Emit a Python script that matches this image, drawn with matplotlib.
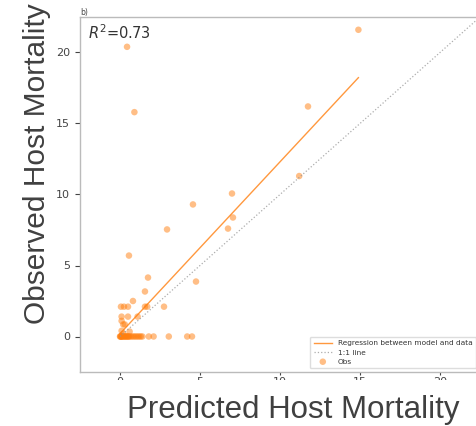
import numpy as np
import matplotlib
matplotlib.use('Agg')
import matplotlib.pyplot as plt
from matplotlib.patches import Rectangle

# observations: predicted vs observed host mortality
pred_upper = [14.9, 0.44, 0.9, 11.75, 11.2, 7.0, 4.56, 2.94, 7.06, 6.75,
              0.56, 1.75, 1.56, 4.75, 0.81]
obs_upper = [21.6, 20.4, 15.8, 16.2, 11.3, 10.07, 9.3, 7.54, 8.38, 7.6,
             5.7, 4.15, 3.17, 3.87, 2.5]
pred_low = [0.06, 0.25, 0.5, 1.56, 1.7, 2.75,
            0.1, 0.5, 1.1, 0.1, 0.2, 0.3, 0.6, 0.1, 0.2]
obs_low = [2.1, 2.1, 2.1, 2.1, 2.1, 2.1,
           1.4, 1.4, 1.4, 1.1, 0.85, 0.85, 0.35, 0.4, 0.2]
pred_zero = [0.0, 0.02, 0.05, 0.08, 0.1, 0.15, 0.2, 0.25, 0.3, 0.35, 0.4,
             0.45, 0.5, 0.55, 0.6, 0.7, 0.8, 0.9, 1.0, 1.1, 1.2, 1.3, 1.4,
             1.8, 2.1, 3.05, 4.2, 4.5]

pred = np.array(pred_upper + pred_low + pred_zero)
obs = np.array(obs_upper + obs_low + [0.0] * len(pred_zero))

reg_slope = 1.21
reg_intercept = 0.2
r2_text = '$R^2$=0.73'
one_to_one = [0, 25]

fig = plt.figure(figsize=(4.76, 4.26), dpi=100)
ax = fig.add_axes([80 / 476, 1 - 372 / 426, 400 / 476, 355 / 426])

orange = '#ff7f0e'
xr = np.array([pred.min(), pred.max()])
ax.plot(xr, reg_intercept + reg_slope * xr, color=orange, lw=1.0, alpha=0.8,
        label='Regression between model and data')
ax.plot(one_to_one, one_to_one, color='#999999', ls=':', lw=0.9, alpha=0.8,
        label='1:1 line')
ax.scatter(pred, obs, s=22, color=orange, alpha=0.5, edgecolors='none',
           label='Obs')

ax.set_xlim(-2.5, 22.5)
ax.set_ylim(-2.5, 22.5)
ax.set_xticks([0, 5, 10, 15, 20])
ax.set_yticks([0, 5, 10, 15, 20])
ax.tick_params(labelsize=8, colors='#444444', length=3.5, width=0.8)
ax.tick_params(axis='x', length=2.5, pad=1.0)
for s in ax.spines.values():
    s.set_color('#bbbbbb')
    s.set_linewidth(1.0)

ax.text(0.02, 0.982, r2_text, transform=ax.transAxes, fontsize=10.5,
        color='#333333', va='top', ha='left')

leg = ax.legend(loc='lower right', fontsize=5.3, framealpha=1,
                edgecolor='#dddddd', handlelength=2.5, borderpad=0.5,
                labelspacing=0.4)
for t in leg.get_texts():
    t.set_color('#333333')

fig.text(80 / 476, 1 - 12 / 426, 'b)', fontsize=5.5, color='#444444',
         va='center', ha='left')

# white band covering the bottom of the tick labels (pasted slide look)
fig.patches.append(Rectangle((0, 0), 1, 1 - 380 / 426, transform=fig.transFigure,
                             facecolor='white', edgecolor='none', zorder=5))

fig.text(293 / 476, 1 - 410 / 426, 'Predicted Host Mortality',
         family='Liberation Sans', fontsize=22.5, color='#404040',
         ha='center', va='center', zorder=6)
fig.text(37 / 476, 1 - 164 / 426, 'Observed Host Mortality',
         family='Liberation Sans', fontsize=21.5, color='#404040',
         ha='center', va='center', rotation=90, zorder=6)

fig.savefig('out.png', dpi=100)
